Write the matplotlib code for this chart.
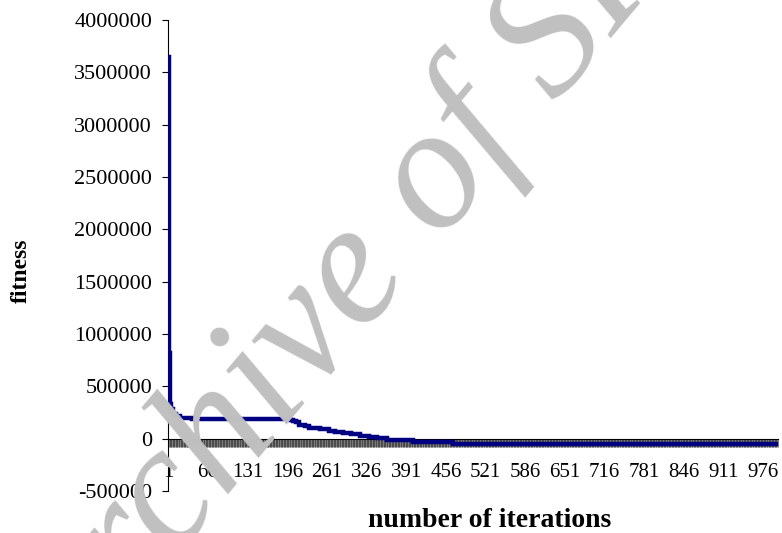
import matplotlib
matplotlib.use("Agg")
import matplotlib.pyplot as plt
import numpy as np

# Step breakpoints of the fitness curve (iteration where a new value starts)
iterations = [1, 2, 3, 4, 6, 9, 13, 20, 40, 200, 205, 210, 216, 225, 232, 250,
              265, 275, 287, 300, 315, 330, 343, 359, 402, 467, 1000]
fitness = [3650000, 815000, 450000, 330000, 280000, 240000, 215000, 200000,
           190000, 182000, 170000, 155000, 135000, 120000, 100000, 92000,
           75000, 66000, 55000, 45000, 30000, 20000, 7000, -12000, -28000,
           -50000, -50000]

n_iter = 1000
x_tick_labels = [1, 66, 131, 196, 261, 326, 391, 456, 521, 586, 651, 716,
                 781, 846, 911, 976]
y_ticks = [-500000, 0, 500000, 1000000, 1500000, 2000000, 2500000,
           3000000, 3500000, 4000000]

plt.rcParams['font.family'] = ['Liberation Serif', 'DejaVu Serif']

fig = plt.figure(figsize=(7.82, 5.33), dpi=100)
W, H = 782, 533
ax = fig.add_axes([168 / W, 1 - 491 / H, (778 - 168) / W, (491 - 20) / H])

ax.plot(iterations, fitness, drawstyle='steps-post', color='#000080',
        lw=3.2, solid_joinstyle='miter', zorder=3)

ax.set_xlim(0.5, n_iter + 0.5)
ax.set_ylim(-500000, 4000000)

ax.spines['top'].set_visible(False)
ax.spines['right'].set_visible(False)
ax.spines['bottom'].set_position(('data', 0))
ax.spines['bottom'].set_linewidth(0.8)
ax.spines['left'].set_linewidth(0.8)

ax.set_xticks(x_tick_labels)
ax.set_xticklabels([str(v) for v in x_tick_labels])
ax.set_xticks(np.arange(1, n_iter + 1), minor=True)
ax.tick_params(axis='x', which='both', direction='out', length=5.5,
               width=0.45, color='#303030')
ax.tick_params(axis='x', which='major', labelsize=15, pad=12)

ax.set_yticks(y_ticks)
ax.set_yticklabels([str(v) for v in y_ticks])
ax.tick_params(axis='y', direction='out', length=4.5, width=0.8,
               labelsize=16, pad=7)

fig.text(21 / W, 1 - 271 / H, 'fitness', rotation=90, ha='center',
         va='center', fontsize=17, fontweight='bold')
fig.text(490 / W, 1 - 527 / H, 'number of iterations', ha='center',
         va='baseline', fontsize=20, fontweight='bold')

fig.text(402 / W, 1 - 298 / H, 'Archive of SID', rotation=50,
         rotation_mode='anchor', ha='center', va='baseline', fontsize=126,
         style='italic', color='#c0c0c0', zorder=10)

fig.savefig('out.png', dpi=100)
